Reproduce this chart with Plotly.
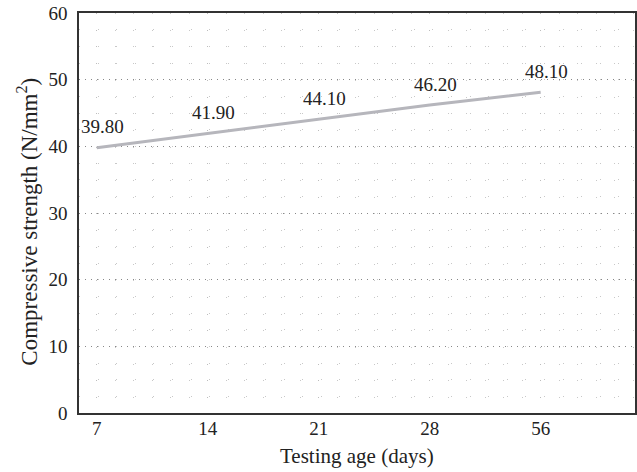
import plotly.graph_objects as go

ages = ["7", "14", "21", "28", "56"]
strength = [39.80, 41.90, 44.10, 46.20, 48.10]
y_ticks = [0, 10, 20, 30, 40, 50, 60]

FONT = "Liberation Serif"
xs = list(range(len(ages)))

fig = go.Figure()
fig.add_trace(go.Scatter(
    x=xs, y=strength, mode="lines",
    line=dict(color="#b6b6bc", width=3),
    hoverinfo="skip", showlegend=False,
))

for xi, v in zip(xs, strength):
    fig.add_annotation(x=xi, y=v, text=f"{v:.2f}", showarrow=False,
                       xshift=6, yshift=21,
                       font=dict(family=FONT, size=19, color="#222"))

fig.add_annotation(xref="paper", yref="paper", x=0.5, y=-0.108,
                   text="Testing age (days)", showarrow=False,
                   xanchor="center", yanchor="middle",
                   font=dict(family=FONT, size=21, color="#222"))
fig.add_annotation(xref="paper", yref="paper", x=-0.092, y=0.478,
                   text="Compressive strength (N/mm<sup>2</sup>)", showarrow=False,
                   xanchor="center", yanchor="middle", textangle=-90,
                   font=dict(family=FONT, size=23, color="#222"))

fig.update_layout(
    width=637, height=472,
    margin=dict(l=79, r=2, t=13, b=59),
    paper_bgcolor="white", plot_bgcolor="white",
    font=dict(family=FONT, size=19, color="#222"),
    xaxis=dict(
        range=[-0.16, 4.85], automargin=False,
        tickmode="array", tickvals=xs, ticktext=ages,
        showline=True, linecolor="#333", linewidth=1.5, mirror=True,
        showgrid=True, gridcolor="#bdbdbd", griddash="1px,15.7px", gridwidth=1,
        zeroline=False, ticks="", ticklabelstandoff=-3,
        minor=dict(dtick=1/6, tick0=0, showgrid=True, gridcolor="#c8c8c8",
                   griddash="1px,15.7px", gridwidth=1, ticks=""),
        tickfont=dict(family=FONT, size=19),
    ),
    yaxis=dict(
        range=[0, 60], automargin=False,
        tickmode="array", tickvals=y_ticks,
        showline=True, linecolor="#333", linewidth=1.5, mirror=True,
        showgrid=True, gridcolor="#888", griddash="1px,5px", gridwidth=1,
        zeroline=False, ticks="", ticklabelstandoff=6, ticklabeloverflow="allow",
        minor=dict(dtick=2.5, showgrid=True, gridcolor="#c8c8c8",
                   griddash="1px,17.6px", gridwidth=1, ticks=""),
        tickfont=dict(family=FONT, size=19),
    ),
)

# remove the browser's default 8px page margin so the 637x472 figure fills the window
fig.write_html("out.html", config={"displayModeBar": False},
               post_script="document.body.style.margin='0px';")
